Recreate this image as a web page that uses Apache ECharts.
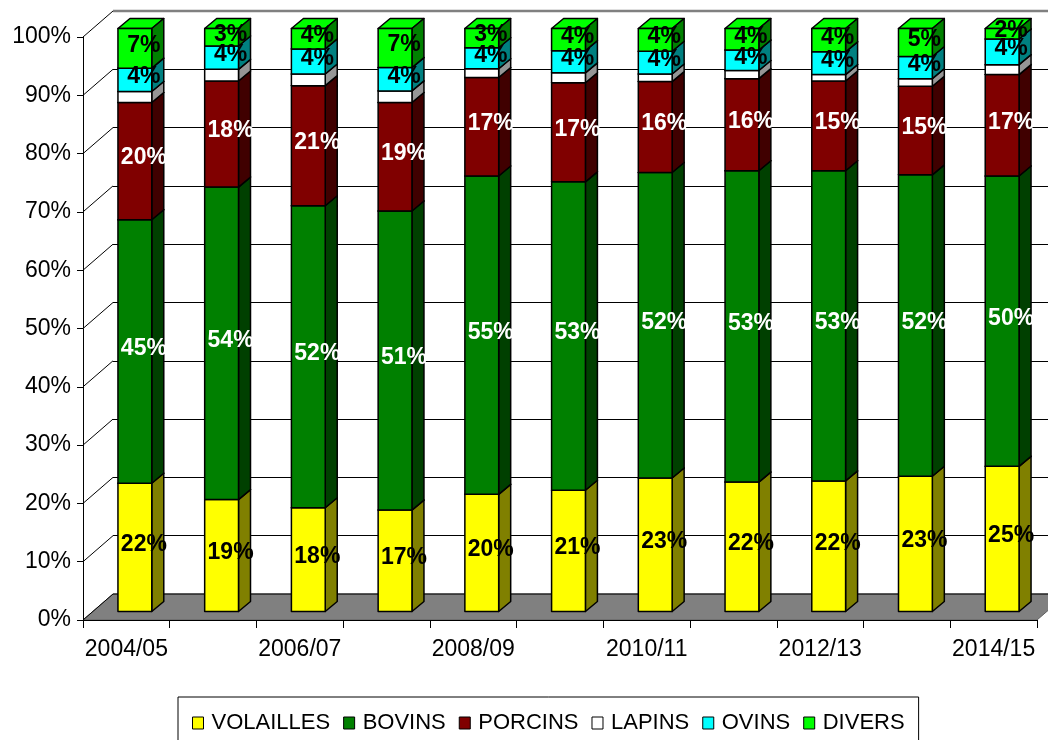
<!DOCTYPE html>
<html>
<head>
<meta charset="utf-8">
<script src="https://cdn.jsdelivr.net/npm/echarts@6/dist/echarts.min.js"></script>
<style>
  html, body { margin: 0; padding: 0; background: #fff; }
  #chart { width: 1048px; height: 740px; }
</style>
</head>
<body>
<div id="chart"></div>
<script>
// campagnes
const categories = ['2004/05', '2005/06', '2006/07', '2007/08', '2008/09', '2009/10',
  '2010/11', '2011/12', '2012/13', '2013/14', '2014/15'];

// parts en %
const volailles = [22.0, 19.2, 17.8, 17.4, 20.1, 20.8, 22.9, 22.2, 22.4, 23.2, 24.9];
const bovins    = [45.2, 53.6, 51.8, 51.3, 54.6, 52.9, 52.4, 53.4, 53.2, 51.7, 49.8];
const porcins   = [20.1, 18.2, 20.6, 18.6, 16.9, 17.0, 15.6, 15.8, 15.4, 15.2, 17.4];
const lapins    = [ 1.9,  2.0,  2.0,  2.0,  1.5,  1.7,  1.3,  1.4,  1.1,  1.3,  1.7];
const ovins     = [ 4.0,  4.0,  4.3,  4.0,  3.6,  3.8,  3.9,  3.5,  3.9,  3.8,  4.4];
const divers    = [ 6.8,  3.0,  3.5,  6.7,  3.3,  3.8,  3.9,  3.7,  4.0,  4.8,  1.8];

const yTicks = [0, 10, 20, 30, 40, 50, 60, 70, 80, 90, 100];

const seriesDefs = [
  { name: 'VOLAILLES', data: volailles, color: '#FFFF00', side: '#808000', label: '#000' },
  { name: 'BOVINS',    data: bovins,    color: '#008000', side: '#004000', label: '#fff' },
  { name: 'PORCINS',   data: porcins,   color: '#800000', side: '#400000', label: '#fff' },
  { name: 'LAPINS',    data: lapins,    color: '#FFFFFF', side: '#969696', label: null },
  { name: 'OVINS',     data: ovins,     color: '#00FFFF', side: '#008080', label: '#000' },
  { name: 'DIVERS',    data: divers,    color: '#00FF00', side: '#008000', label: '#000' },
];

// decalage 3D
const WALL_DX = 30, WALL_DY = -26;   // profondeur du plancher / mur du fond
const BAR_OX = 8.5, BAR_OY = -8.5;   // face avant des barres
const SIDE_DX = 12, SIDE_DY = -10;   // epaisseur des barres

const FONT = '"Liberation Sans", Arial, sans-serif';

const chart = echarts.init(document.getElementById('chart'));

// cumul pour empiler
const cumul = categories.map(() => 0);
const series = seriesDefs.map((def) => {
  const rows = def.data.map((v, i) => {
    const base = cumul[i];
    cumul[i] += v;
    return [i, base, cumul[i], v];
  });
  return {
    name: def.name,
    type: 'custom',
    xAxisIndex: 0,
    yAxisIndex: 0,
    itemStyle: { color: def.color },
    encode: { x: 0, y: [1, 2] },
    data: rows,
    z: 3,
    renderItem: (params, api) => {
      const i = api.value(0);
      const p0 = api.coord([i, api.value(1)]);
      const p1 = api.coord([i, api.value(2)]);
      const w = api.size([1, 0])[0] * 0.39;
      const x0 = p0[0] - w / 2 + BAR_OX;
      const x1 = x0 + w;
      const yb = p0[1] + BAR_OY;
      const yt = p1[1] + BAR_OY;
      const stroke = { stroke: '#000', lineWidth: 1.5, lineJoin: 'round' };
      const children = [
        {
          type: 'polygon',
          shape: { points: [[x0, yt], [x1, yt], [x1 + SIDE_DX, yt + SIDE_DY], [x0 + SIDE_DX, yt + SIDE_DY]] },
          style: Object.assign({ fill: def.color }, stroke),
        },
        {
          type: 'polygon',
          shape: { points: [[x1, yb], [x1 + SIDE_DX, yb + SIDE_DY], [x1 + SIDE_DX, yt + SIDE_DY], [x1, yt]] },
          style: Object.assign({ fill: def.side }, stroke),
        },
        {
          type: 'rect',
          shape: { x: x0, y: yt, width: w, height: yb - yt },
          style: Object.assign({ fill: def.color }, stroke),
        },
      ];
      if (def.label) {
        children.push({
          type: 'text',
          z2: 100,
          style: {
            x: x0 + w / 2 + 9,
            y: (yt + yb) / 2 - 3,
            text: Math.round(api.value(3)) + '%',
            fill: def.label,
            font: 'bold 23px ' + FONT,
            align: 'center',
            verticalAlign: 'middle',
          },
        });
      }
      return { type: 'group', children: children };
    },
  };
});

// plancher + aretes du mur gauche
series.unshift({
  name: 'decor',
  type: 'custom',
  xAxisIndex: 0,
  yAxisIndex: 0,
  silent: true,
  data: [[0]],
  z: 1,
  renderItem: (params, api) => {
    const cs = params.coordSys;
    const xl = cs.x, xr = cs.x + cs.width;
    const y0 = api.coord([0, 0])[1];
    const children = [
      {
        type: 'polygon',
        shape: { points: [[xl, y0], [xr, y0], [xr + WALL_DX, y0 + WALL_DY], [xl + WALL_DX, y0 + WALL_DY]] },
        style: { fill: '#808080', stroke: '#606060', lineWidth: 1 },
      },
      {
        type: 'line',
        shape: { x1: xl + WALL_DX, y1: y0 + WALL_DY, x2: xr + WALL_DX, y2: y0 + WALL_DY },
        style: { stroke: '#000', lineWidth: 1 },
      },
    ];
    yTicks.forEach((v) => {
      const y = api.coord([0, v])[1];
      children.push({
        type: 'line',
        shape: { x1: xl, y1: y, x2: xl + WALL_DX, y2: y + WALL_DY },
        style: { stroke: '#000', lineWidth: 1 },
      });
    });
    const yTop = api.coord([0, 100])[1] + WALL_DY;
    children.push({
      type: 'line',
      shape: { x1: xl + WALL_DX, y1: yTop, x2: xr + WALL_DX, y2: yTop },
      style: { stroke: '#808080', lineWidth: 2.5 },
    });
    return { type: 'group', children: children };
  },
});

const option = {
  backgroundColor: '#fff',
  animation: false,
  grid: [
    { left: 83, right: 11, top: 37, bottom: 120 },
    { left: 83 + WALL_DX, width: 954, top: 37 + WALL_DY, bottom: 120 - WALL_DY },
  ],
  legend: {
    data: seriesDefs.map((d) => d.name),
    left: 178,
    top: 697,
    padding: [15, 14, 20, 14],
    borderColor: '#000',
    borderWidth: 1,
    itemWidth: 11,
    itemHeight: 12,
    itemGap: 13,
    icon: 'rect',
    itemStyle: { borderColor: '#000', borderWidth: 1 },
    textStyle: { fontFamily: FONT, fontSize: 22, color: '#000', padding: [0, 0, 0, 3] },
  },
  xAxis: [
    {
      type: 'category',
      gridIndex: 0,
      data: categories,
      boundaryGap: true,
      z: 5,
      axisLine: { show: true, lineStyle: { color: '#000', width: 1 } },
      axisTick: { show: true, interval: 0, length: 8, lineStyle: { color: '#000' } },
      axisLabel: { interval: 1, margin: 18, color: '#000', fontFamily: FONT, fontSize: 23 },
      splitLine: { show: false },
    },
    {
      type: 'category',
      gridIndex: 1,
      data: categories,
      show: false,
    },
  ],
  yAxis: [
    {
      type: 'value',
      gridIndex: 0,
      min: 0,
      max: 100,
      interval: 10,
      z: 5,
      axisLine: { show: true, lineStyle: { color: '#000', width: 1 } },
      axisTick: { show: true, length: 6, lineStyle: { color: '#000' } },
      axisLabel: { formatter: '{value}%', margin: 12, color: '#000', fontFamily: FONT, fontSize: 23 },
      splitLine: { show: false },
    },
    {
      type: 'value',
      gridIndex: 1,
      min: 0,
      max: 100,
      interval: 10,
      axisLine: { show: false },
      axisTick: { show: false },
      axisLabel: { show: false },
      splitLine: { show: true, lineStyle: { color: '#000', width: 1 } },
    },
  ],
  series: series,
};

chart.setOption(option);
</script>
</body>
</html>
